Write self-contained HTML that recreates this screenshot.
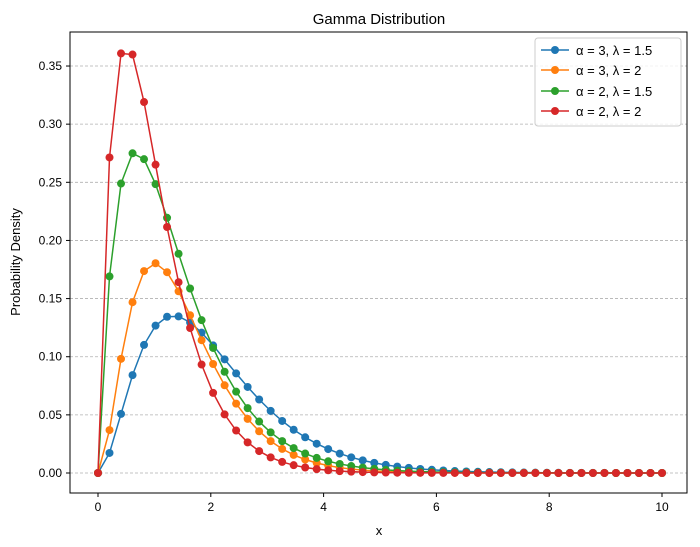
<!DOCTYPE html>
<html><head><meta charset="utf-8"><style>
body{margin:0;background:#fff;}
svg{display:block;font-family:"Liberation Sans","DejaVu Sans",sans-serif;}
</style></head><body>
<svg id="s" width="700" height="547" xmlns="http://www.w3.org/2000/svg">
<rect width="700" height="547" fill="#fff"/>
<text x="379" y="24" font-size="15" text-anchor="middle">Gamma Distribution</text>
<g id="grid"></g>
<g id="series"></g>
<rect x="70" y="32" width="617" height="461" fill="none" stroke="#000" stroke-width="1"/>
<g id="ticks" font-size="12"></g>
<text x="379" y="535" font-size="13" text-anchor="middle">x</text>
<text transform="translate(20,262) rotate(-90)" font-size="13" text-anchor="middle">Probability Density</text>
<g>
<rect x="535" y="38" width="146" height="88" rx="3" fill="#fff" fill-opacity="0.8" stroke="#ccc"/>
<line x1="541" y1="50" x2="569" y2="50" stroke="#1f77b4" stroke-width="1.5"/><circle cx="555" cy="50" r="4" fill="#1f77b4"/>
<text x="576" y="55" font-size="13">α = 3, λ = 1.5</text>
<line x1="541" y1="70" x2="569" y2="70" stroke="#ff7f0e" stroke-width="1.5"/><circle cx="555" cy="70" r="4" fill="#ff7f0e"/>
<text x="576" y="75" font-size="13">α = 3, λ = 2</text>
<line x1="541" y1="91" x2="569" y2="91" stroke="#2ca02c" stroke-width="1.5"/><circle cx="555" cy="91" r="4" fill="#2ca02c"/>
<text x="576" y="96" font-size="13">α = 2, λ = 1.5</text>
<line x1="541" y1="111" x2="569" y2="111" stroke="#d62728" stroke-width="1.5"/><circle cx="555" cy="111" r="4" fill="#d62728"/>
<text x="576" y="116" font-size="13">α = 2, λ = 2</text>
</g>
</svg>
<script>
var NS="http://www.w3.org/2000/svg";
function X(x){return 98+x*56.4;}
function Y(y){return 473-y*1162.8;}
function el(p,t,a,txt){var e=document.createElementNS(NS,t);for(var k in a)e.setAttribute(k,a[k]);if(txt!=null)e.textContent=txt;document.getElementById(p).appendChild(e);}
for(var i=0;i<=7;i++){var v=i*0.05,y=Y(v);
el("grid","line",{x1:70,x2:687,y1:y,y2:y,stroke:"#b0b0b0","stroke-dasharray":"3,2","stroke-width":0.8});
el("ticks","line",{x1:66,x2:70,y1:y,y2:y,stroke:"#000"});
el("ticks","text",{x:62,y:y+4,"text-anchor":"end"},v.toFixed(2));}
for(var i=0;i<=10;i+=2){var x=X(i);
el("ticks","line",{x1:x,x2:x,y1:493,y2:497,stroke:"#000"});
el("ticks","text",{x:x,y:511,"text-anchor":"middle"},String(i));}
var S=[[3,1.5,"#1f77b4"],[3,2,"#ff7f0e"],[2,1.5,"#2ca02c"],[2,2,"#d62728"]];
var fact={2:2,3:6};
S.forEach(function(s){var a=s[0],l=s[1],pts=[];
for(var i=0;i<50;i++){var x=10*i/49,y=Math.pow(l,a)*Math.pow(x,a-1)*Math.exp(-l*x)/fact[a];pts.push([X(x),Y(y)]);}
el("series","polyline",{points:pts.map(function(p){return p.join(",")}).join(" "),fill:"none",stroke:s[2],"stroke-width":1.5});
pts.forEach(function(p){el("series","circle",{cx:p[0],cy:p[1],r:4,fill:s[2]});});
});
</script>
</body></html>
